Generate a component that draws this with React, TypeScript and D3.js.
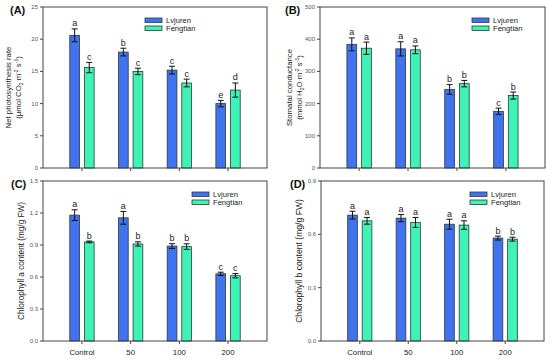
import React from 'react';
import * as d3 from 'd3';

// treatment groups and cultivars
const categories = ['Control', '50', '100', '200'];
const cultivars = ['Lvjuren', 'Fengtian'];

// (A) net photosynthesis rate
const photoLv = [20.6, 18.0, 15.2, 10.0];
const photoLvErr = [1.0, 0.6, 0.6, 0.5];
const photoFe = [15.6, 15.0, 13.2, 12.1];
const photoFeErr = [0.8, 0.5, 0.6, 1.1];
const photoLvLetters = ['a', 'b', 'c', 'e'];
const photoFeLetters = ['c', 'c', 'c', 'd'];
const photoTicks = [0, 5, 10, 15, 20, 25];

// (B) stomatal conductance
const condLv = [384, 370, 244, 176];
const condLvErr = [20, 22, 15, 10];
const condFe = [372, 367, 262, 225];
const condFeErr = [19, 12, 10, 11];
const condLvLetters = ['a', 'a', 'b', 'c'];
const condFeLetters = ['a', 'a', 'b', 'b'];
const condTicks = [0, 100, 200, 300, 400, 500];

// (C) chlorophyll a
const chlaLv = [1.18, 1.155, 0.89, 0.63];
const chlaLvErr = [0.05, 0.06, 0.022, 0.015];
const chlaFe = [0.929, 0.91, 0.885, 0.612];
const chlaFeErr = [0.008, 0.02, 0.026, 0.02];
const chlaLvLetters = ['a', 'a', 'b', 'c'];
const chlaFeLetters = ['b', 'b', 'b', 'c'];
const chlaTicks = [0.0, 0.3, 0.6, 0.9, 1.2, 1.5];

// (D) chlorophyll b
const chlbLv = [0.708, 0.691, 0.657, 0.579];
const chlbLvErr = [0.022, 0.02, 0.028, 0.011];
const chlbFe = [0.676, 0.667, 0.652, 0.573];
const chlbFeErr = [0.019, 0.028, 0.024, 0.011];
const chlbLvLetters = ['a', 'a', 'a', 'b'];
const chlbFeLetters = ['a', 'a', 'a', 'b'];
const chlbTicks = [0.0, 0.3, 0.6, 0.9];

const BLUE = '#4173ee';
const GREEN = '#3ff2b6';
const FONT = 'Liberation Sans, Arial, sans-serif';

type PanelProps = {
  tag: string;
  box: { x0: number; x1: number; y0: number; y1: number };
  ticks: number[];
  tickFmt: (v: number) => string;
  lv: number[]; lvErr: number[]; lvLetters: string[];
  fe: number[]; feErr: number[]; feLetters: string[];
  yLabel: React.ReactNode[];
  labelX: number[];
  labelSize: number;
  legendX: number;
  tagX: number;
  showX: boolean;
};

function Panel(p: PanelProps) {
  const { box } = p;
  const x = d3.scaleLinear().domain([-0.8, 3.8]).range([box.x0, box.x1]);
  const y = d3.scaleLinear().domain([p.ticks[0], p.ticks[p.ticks.length - 1]]).range([box.y1, box.y0]);
  const bw = x(0.2) - x(0);
  const rows = [
    { vals: p.lv, errs: p.lvErr, letters: p.lvLetters, off: -0.15, color: BLUE },
    { vals: p.fe, errs: p.feErr, letters: p.feLetters, off: 0.15, color: GREEN },
  ];
  const cy = (box.y0 + box.y1) / 2;
  return (
    <g fontFamily={FONT}>
      {rows.map((r, si) =>
        categories.map((c, i) => {
          const cx = x(i + r.off);
          const top = y(r.vals[i]);
          const eTop = y(r.vals[i] + r.errs[i]);
          const eBot = y(r.vals[i] - r.errs[i]);
          return (
            <g key={si + '-' + c}>
              <rect x={cx - bw / 2} y={top} width={bw} height={box.y1 - top}
                fill={r.color} stroke="#2d3b3a" strokeWidth={0.8} />
              <line x1={cx} x2={cx} y1={eTop} y2={eBot} stroke="#111" strokeWidth={1} />
              <line x1={cx - 3} x2={cx + 3} y1={eTop} y2={eTop} stroke="#111" strokeWidth={1} />
              <line x1={cx - 3} x2={cx + 3} y1={eBot} y2={eBot} stroke="#111" strokeWidth={1} />
              <text x={cx} y={eTop - 2.5} textAnchor="middle" fontSize={9} fill="#222">{r.letters[i]}</text>
            </g>
          );
        })
      )}
      <rect x={box.x0} y={box.y0} width={box.x1 - box.x0} height={box.y1 - box.y0}
        fill="none" stroke="#444" strokeWidth={1} />
      {p.ticks.map((t) => (
        <g key={t}>
          <line x1={box.x0 - 3} x2={box.x0} y1={y(t)} y2={y(t)} stroke="#444" />
          <text x={box.x0 - 5} y={y(t)} dy="0.32em" textAnchor="end" fontSize={6} fill="#555">{p.tickFmt(t)}</text>
        </g>
      ))}
      {categories.map((c, i) => (
        <g key={c}>
          <line x1={x(i)} x2={x(i)} y1={box.y1} y2={box.y1 + 3} stroke="#444" />
          {p.showX && (
            <text x={x(i)} y={box.y1 + 14} textAnchor="middle" fontSize={7.8} fill="#222">{c}</text>
          )}
        </g>
      ))}
      {cultivars.map((s, i) => (
        <g key={s}>
          <rect x={p.legendX} y={box.y0 + 11 + i * 8} width={17} height={4.5}
            fill={i === 0 ? BLUE : GREEN} stroke="#2d3b3a" strokeWidth={0.8} />
          <text x={p.legendX + 21} y={box.y0 + 13.3 + i * 8} dy="0.35em" fontSize={7.6} fill="#222">{s}</text>
        </g>
      ))}
      {p.yLabel.map((l, i) => (
        <text key={i} transform={`translate(${p.labelX[i]},${cy}) rotate(-90)`} textAnchor="middle"
          fontSize={p.labelSize} fill="#222">{l}</text>
      ))}
      <text x={p.tagX} y={box.y0 + 7} fontSize={11} fontWeight="bold" fill="#111">{p.tag}</text>
    </g>
  );
}

const f0 = (v: number) => d3.format('d')(v);
const f1 = (v: number) => d3.format('.1f')(v);

export default function App() {
  return (
    <svg width={550} height={360} style={{ position: 'absolute', left: 0, top: 0, background: '#fff' }}>
      <Panel tag="(A)" box={{ x0: 43, x1: 267, y0: 7, y1: 168 }} ticks={photoTicks} tickFmt={f0}
        lv={photoLv} lvErr={photoLvErr} lvLetters={photoLvLetters}
        fe={photoFe} feErr={photoFeErr} feLetters={photoFeLetters}
        yLabel={['Net photosynthesis rate',
          <>(μmol CO<tspan fontSize={5} dy={2}>2</tspan><tspan dy={-2}> m</tspan><tspan fontSize={5} dy={-3}>-2</tspan><tspan dy={3}> s</tspan><tspan fontSize={5} dy={-3}>-1</tspan><tspan dy={3}>)</tspan></>]}
        labelX={[10.5, 20.5]} labelSize={7.8} legendX={145} tagX={10} showX={false} />
      <Panel tag="(B)" box={{ x0: 320, x1: 545, y0: 7, y1: 168 }} ticks={condTicks} tickFmt={f0}
        lv={condLv} lvErr={condLvErr} lvLetters={condLvLetters}
        fe={condFe} feErr={condFeErr} feLetters={condFeLetters}
        yLabel={['Stomatal conductance',
          <>(mmol H<tspan fontSize={5} dy={2}>2</tspan><tspan dy={-2}>O m</tspan><tspan fontSize={5} dy={-3}>-2</tspan><tspan dy={3}> s</tspan><tspan fontSize={5} dy={-3}>-1</tspan><tspan dy={3}>)</tspan></>]}
        labelX={[292, 302]} labelSize={7.8} legendX={472} tagX={285} showX={false} />
      <Panel tag="(C)" box={{ x0: 43, x1: 267, y0: 181, y1: 341 }} ticks={chlaTicks} tickFmt={f1}
        lv={chlaLv} lvErr={chlaLvErr} lvLetters={chlaLvLetters}
        fe={chlaFe} feErr={chlaFeErr} feLetters={chlaFeLetters}
        yLabel={['Chlorophyll a content (mg/g FW)']}
        labelX={[24]} labelSize={8.2} legendX={192} tagX={11} showX={true} />
      <Panel tag="(D)" box={{ x0: 321, x1: 544, y0: 181, y1: 341 }} ticks={chlbTicks} tickFmt={f1}
        lv={chlbLv} lvErr={chlbLvErr} lvLetters={chlbLvLetters}
        fe={chlbFe} feErr={chlbFeErr} feLetters={chlbFeLetters}
        yLabel={['Chlorophyll b content (mg/g FW)']}
        labelX={[302]} labelSize={8.6} legendX={470} tagX={290} showX={true} />
    </svg>
  );
}
